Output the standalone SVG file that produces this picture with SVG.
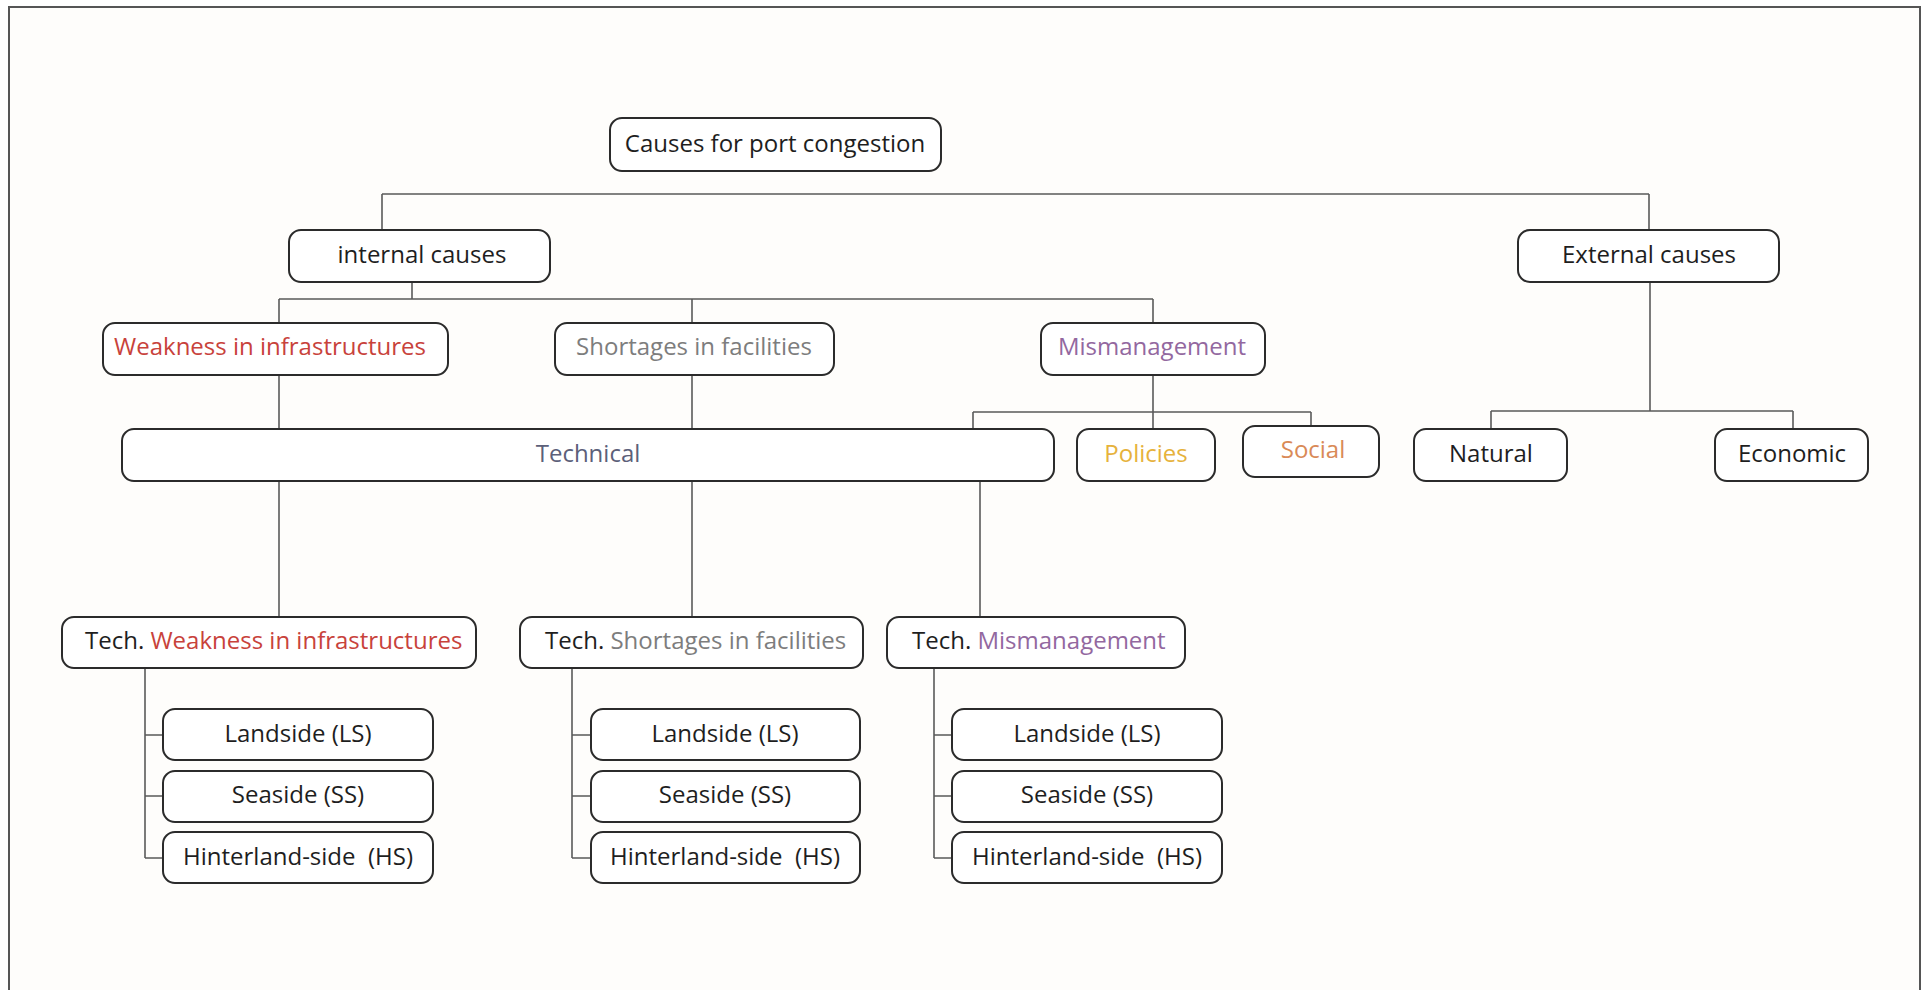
<svg xmlns="http://www.w3.org/2000/svg" width="1926" height="990" viewBox="0 0 1926 990">
  <style>
    .box { fill: #ffffff; stroke: #2b2b2b; stroke-width: 2; }
    .wire { fill: none; stroke: #5a5a5a; stroke-width: 1.6; }
    text { font-family: "Open Sans", "Noto Sans", "Liberation Sans", sans-serif; font-size: 24px; fill: #1e1e1e; }
    .c { text-anchor: middle; }
    .red { fill: #c8423b; }
    .grey { fill: #7d7d7d; }
    .purple { fill: #93689f; }
    .slate { fill: #5c6079; }
    .gold { fill: #e6b23c; }
    .orange { fill: #d98a57; }
  </style>

  <!-- page and frame -->
  <rect x="0" y="0" width="1926" height="990" fill="#ffffff"/>
  <rect x="9" y="7" width="1911" height="1000" fill="#fefdfb" stroke="#555555" stroke-width="2"/>

  <!-- connectors -->
  <g id="connectors" class="wire">
    <!-- top level split -->
    <path d="M382,194 H1649 M382,194 V230 M1649,194 V230"/>
    <!-- internal causes -->
    <path d="M412,282 V299 M279,299 H1153 M279,299 V323 M692,299 V323 M1153,299 V323"/>
    <!-- into technical -->
    <path d="M279,375 V429 M692,375 V429"/>
    <!-- mismanagement split -->
    <path d="M1153,375 V429 M973,412 H1311 M973,412 V429 M1311,412 V426"/>
    <!-- external causes -->
    <path d="M1650,282 V411 M1491,411 H1793 M1491,411 V429 M1793,411 V429"/>
    <!-- technical down to the three tech nodes -->
    <path d="M279,481 V617 M692,481 V617 M980,481 V617"/>
    <!-- side lists -->
    <path d="M145,668 V858 M145,735 H163 M145,796 H163 M145,858 H163"/>
    <path d="M572,668 V858 M572,735 H591 M572,796 H591 M572,858 H591"/>
    <path d="M934,668 V858 M934,735 H952 M934,796 H952 M934,858 H952"/>
  </g>

  <g id="root">
    <rect class="box" x="610" y="118" width="331" height="53" rx="12"/>
    <text class="c" x="775" y="152">Causes for port congestion</text>
  </g>
  <g id="internal">
    <rect class="box" x="289" y="230" width="261" height="52" rx="12"/>
    <text class="c" x="422" y="263">internal causes</text>
  </g>
  <g id="external">
    <rect class="box" x="1518" y="230" width="261" height="52" rx="12"/>
    <text class="c" x="1649" y="263">External causes</text>
  </g>
  <g id="weakness">
    <rect class="box" x="103" y="323" width="345" height="52" rx="12"/>
    <text class="c red" x="270" y="355">Weakness in infrastructures</text>
  </g>
  <g id="shortages">
    <rect class="box" x="555" y="323" width="279" height="52" rx="12"/>
    <text class="c grey" x="694" y="355">Shortages in facilities</text>
  </g>
  <g id="mismanagement">
    <rect class="box" x="1041" y="323" width="224" height="52" rx="12"/>
    <text class="c purple" x="1152" y="355">Mismanagement</text>
  </g>
  <g id="technical">
    <rect class="box" x="122" y="429" width="932" height="52" rx="12"/>
    <text class="c slate" x="588" y="462">Technical</text>
  </g>
  <g id="policies">
    <rect class="box" x="1077" y="429" width="138" height="52" rx="12"/>
    <text class="c gold" x="1146" y="462">Policies</text>
  </g>
  <g id="social">
    <rect class="box" x="1243" y="426" width="136" height="51" rx="12"/>
    <text class="c orange" x="1313" y="458">Social</text>
  </g>
  <g id="natural">
    <rect class="box" x="1414" y="429" width="153" height="52" rx="12"/>
    <text class="c" x="1491" y="462">Natural</text>
  </g>
  <g id="economic">
    <rect class="box" x="1715" y="429" width="153" height="52" rx="12"/>
    <text class="c" x="1792" y="462">Economic</text>
  </g>

  <!-- technical weakness branch -->
  <g id="tech-weakness">
    <rect class="box" x="62" y="617" width="414" height="51" rx="12"/>
    <text x="85" y="649">Tech. <tspan class="red">Weakness in infrastructures</tspan></text>
  </g>
  <g id="tw-ls">
    <rect class="box" x="163" y="709" width="270" height="51" rx="12"/>
    <text class="c" x="298" y="742">Landside (LS)</text>
  </g>
  <g id="tw-ss">
    <rect class="box" x="163" y="771" width="270" height="51" rx="12"/>
    <text class="c" x="298" y="803">Seaside (SS)</text>
  </g>
  <g id="tw-hs">
    <rect class="box" x="163" y="832" width="270" height="51" rx="12"/>
    <text class="c" x="298" y="865" xml:space="preserve">Hinterland-side  (HS)</text>
  </g>

  <!-- technical shortages branch -->
  <g id="tech-shortages">
    <rect class="box" x="520" y="617" width="343" height="51" rx="12"/>
    <text x="545" y="649">Tech. <tspan class="grey">Shortages in facilities</tspan></text>
  </g>
  <g id="ts-ls">
    <rect class="box" x="591" y="709" width="269" height="51" rx="12"/>
    <text class="c" x="725" y="742">Landside (LS)</text>
  </g>
  <g id="ts-ss">
    <rect class="box" x="591" y="771" width="269" height="51" rx="12"/>
    <text class="c" x="725" y="803">Seaside (SS)</text>
  </g>
  <g id="ts-hs">
    <rect class="box" x="591" y="832" width="269" height="51" rx="12"/>
    <text class="c" x="725" y="865" xml:space="preserve">Hinterland-side  (HS)</text>
  </g>

  <!-- technical mismanagement branch -->
  <g id="tech-mismanagement">
    <rect class="box" x="887" y="617" width="298" height="51" rx="12"/>
    <text x="912" y="649">Tech. <tspan class="purple">Mismanagement</tspan></text>
  </g>
  <g id="tm-ls">
    <rect class="box" x="952" y="709" width="270" height="51" rx="12"/>
    <text class="c" x="1087" y="742">Landside (LS)</text>
  </g>
  <g id="tm-ss">
    <rect class="box" x="952" y="771" width="270" height="51" rx="12"/>
    <text class="c" x="1087" y="803">Seaside (SS)</text>
  </g>
  <g id="tm-hs">
    <rect class="box" x="952" y="832" width="270" height="51" rx="12"/>
    <text class="c" x="1087" y="865" xml:space="preserve">Hinterland-side  (HS)</text>
  </g>
</svg>
